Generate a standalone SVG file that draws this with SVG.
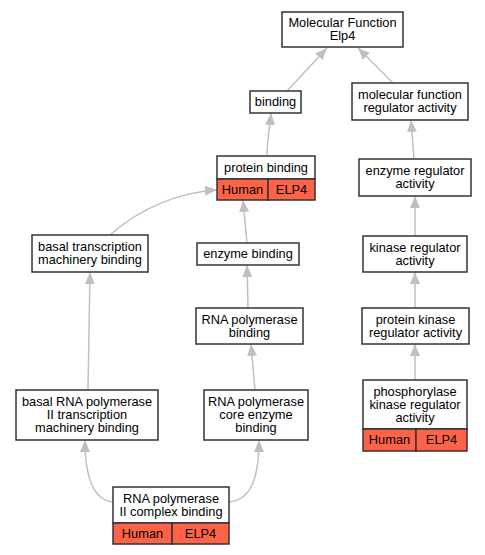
<svg xmlns="http://www.w3.org/2000/svg" width="485" height="555" viewBox="0 0 485 555">
<style>
.n{fill:#fff;stroke:#333;stroke-width:1.5}
.h{fill:#ff6347;stroke:#333;stroke-width:1.5}
.t{font-family:"Liberation Sans",Arial,sans-serif;font-size:12.8px;fill:#000;text-anchor:middle}
.e{fill:none;stroke:#c0c0c0;stroke-width:1.5;marker-end:url(#a)}
</style>
<defs>
<marker id="a" markerUnits="userSpaceOnUse" markerWidth="12" markerHeight="10" refX="12" refY="5" orient="auto">
<path d="M0,0 L12,5 L0,10 z" fill="#c0c0c0"/>
</marker>
</defs>
<rect width="485" height="555" fill="#fff"/>
<g id="edges">
<path class="e" d="M287,91 L327,48"/>
<path class="e" d="M393,83 L358,48"/>
<path class="e" d="M267,155 C267,140 270,125 271,113"/>
<path class="e" d="M414,159 L411,120"/>
<path class="e" d="M110,235 C140,208 180,192 217,190"/>
<path class="e" d="M247,243 L243,200"/>
<path class="e" d="M248,308 L247,265"/>
<path class="e" d="M255,390 L251,344"/>
<path class="e" d="M88,390 L90,272"/>
<path class="e" d="M113,502 C95,500 85,480 85,440"/>
<path class="e" d="M229,502 C250,500 259,480 259,440"/>
<path class="e" d="M415,236 L415,196"/>
<path class="e" d="M415,308 L415,272"/>
<path class="e" d="M415,380 L415,344"/>
</g>
<g id="mf">
<rect class="n" x="282" y="12" width="121" height="35"/>
<text class="t" x="342.5" y="27">Molecular Function</text>
<text class="t" x="342.5" y="40">Elp4</text>
</g>
<g id="binding">
<rect class="n" x="250" y="91" width="51" height="22"/>
<text class="t" x="275.5" y="106">binding</text>
</g>
<g id="mfra">
<rect class="n" x="352" y="83" width="116" height="37"/>
<text class="t" x="410" y="99">molecular function</text>
<text class="t" x="410" y="112">regulator activity</text>
</g>
<g id="protein_binding">
<rect class="n" x="217" y="156" width="98" height="23"/>
<text class="t" x="266" y="171.5">protein binding</text>
<rect class="h" x="217" y="179" width="51" height="21"/>
<rect class="h" x="268" y="179" width="47" height="21"/>
<text class="t" x="242.5" y="193.5">Human</text>
<text class="t" x="291.5" y="193.5">ELP4</text>
</g>
<g id="era">
<rect class="n" x="359" y="159" width="112" height="37"/>
<text class="t" x="415" y="175">enzyme regulator</text>
<text class="t" x="415" y="188">activity</text>
</g>
<g id="btmb">
<rect class="n" x="32" y="235" width="116" height="37"/>
<text class="t" x="90" y="251">basal transcription</text>
<text class="t" x="90" y="264">machinery binding</text>
</g>
<g id="enzyme_binding">
<rect class="n" x="197" y="243" width="102" height="22"/>
<text class="t" x="248" y="258">enzyme binding</text>
</g>
<g id="rnapb">
<rect class="n" x="196" y="308" width="107" height="36"/>
<text class="t" x="249.5" y="323.5">RNA polymerase</text>
<text class="t" x="249.5" y="336.5">binding</text>
</g>
<g id="kra">
<rect class="n" x="363" y="236" width="104" height="36"/>
<text class="t" x="415" y="251.5">kinase regulator</text>
<text class="t" x="415" y="264.5">activity</text>
</g>
<g id="pkra">
<rect class="n" x="362" y="308" width="107" height="36"/>
<text class="t" x="415.5" y="323.5">protein kinase</text>
<text class="t" x="415.5" y="336.5">regulator activity</text>
</g>
<g id="phkra">
<rect class="n" x="363" y="380" width="104" height="49"/>
<text class="t" x="415" y="395.5">phosphorylase</text>
<text class="t" x="415" y="408.5">kinase regulator</text>
<text class="t" x="415" y="421.5">activity</text>
<rect class="h" x="363" y="429" width="53" height="22"/>
<rect class="h" x="416" y="429" width="51" height="22"/>
<text class="t" x="389.5" y="444">Human</text>
<text class="t" x="441.5" y="444">ELP4</text>
</g>
<g id="brnap2">
<rect class="n" x="16" y="390" width="142" height="50"/>
<text class="t" x="87" y="406">basal RNA polymerase</text>
<text class="t" x="87" y="419">II transcription</text>
<text class="t" x="87" y="432">machinery binding</text>
</g>
<g id="core">
<rect class="n" x="204" y="390" width="104" height="50"/>
<text class="t" x="256" y="406">RNA polymerase</text>
<text class="t" x="256" y="419">core enzyme</text>
<text class="t" x="256" y="432">binding</text>
</g>
<g id="complex">
<rect class="n" x="113" y="487" width="116" height="36"/>
<text class="t" x="171" y="502.5">RNA polymerase</text>
<text class="t" x="171" y="515.5">II complex binding</text>
<rect class="h" x="113" y="523" width="59" height="21"/>
<rect class="h" x="172" y="523" width="57" height="21"/>
<text class="t" x="142.5" y="537.5">Human</text>
<text class="t" x="200.5" y="537.5">ELP4</text>
</g>
</svg>
